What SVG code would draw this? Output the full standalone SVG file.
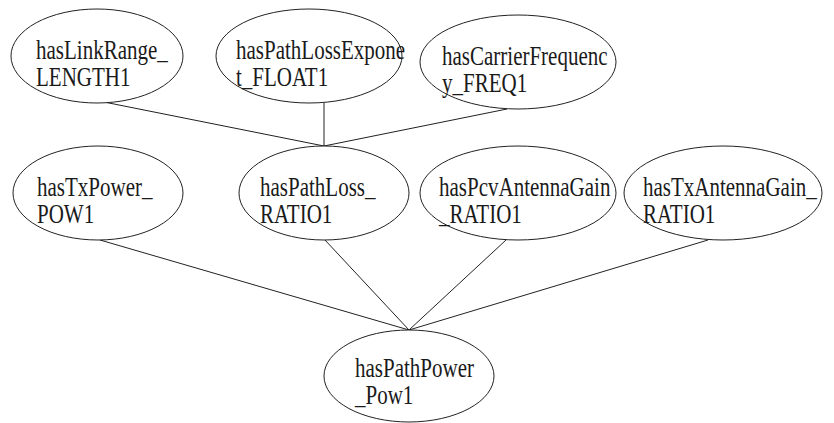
<svg xmlns="http://www.w3.org/2000/svg" width="834" height="423" viewBox="0 0 834 423">
<style>
ellipse{fill:#fff;stroke:#222;stroke-width:1}
text{font-family:'Liberation Serif','Times New Roman',serif;font-size:21px;fill:#1a1a1a}
#edges line{stroke:#222;stroke-width:1}
</style>
<rect width="834" height="423" fill="#fff"/>
<g id="edges">
<line x1="104" y1="102" x2="324" y2="146"/>
<line x1="324" y1="103" x2="324" y2="146"/>
<line x1="507" y1="109" x2="324" y2="146"/>
<line x1="100" y1="240" x2="409" y2="330"/>
<line x1="325" y1="240" x2="409" y2="330"/>
<line x1="506" y1="240" x2="409" y2="330"/>
<line x1="708" y1="240" x2="409" y2="330"/>
</g>
<g id="n1"><ellipse cx="97" cy="56" rx="86" ry="47"/><text transform="translate(36,59) scale(1,1.25)">hasLinkRange_</text><text transform="translate(36,86) scale(1,1.25)">LENGTH1</text></g>
<g id="n2"><ellipse cx="309" cy="56" rx="93" ry="47"/><text transform="translate(236,59) scale(1,1.25)">hasPathLossExpone</text><text transform="translate(236,86) scale(1,1.25)">t_FLOAT1</text></g>
<g id="n3"><ellipse cx="518" cy="62" rx="98" ry="47"/><text transform="translate(442,65) scale(1,1.25)">hasCarrierFrequenc</text><text transform="translate(442,92) scale(1,1.25)">y_FREQ1</text></g>
<g id="n4"><ellipse cx="98" cy="193" rx="85" ry="47"/><text transform="translate(37,196) scale(1,1.25)">hasTxPower_</text><text transform="translate(37,223) scale(1,1.25)">POW1</text></g>
<g id="n5"><ellipse cx="324" cy="193" rx="85" ry="47"/><text transform="translate(260,196) scale(1,1.25)">hasPathLoss_</text><text transform="translate(260,223) scale(1,1.25)">RATIO1</text></g>
<g id="n6"><ellipse cx="518" cy="193" rx="98" ry="47"/><text transform="translate(439,196) scale(1,1.25)">hasPcvAntennaGain</text><text transform="translate(439,223) scale(1,1.25)">_RATIO1</text></g>
<g id="n7"><ellipse cx="723" cy="193" rx="99" ry="47"/><text transform="translate(643,196) scale(1,1.25)">hasTxAntennaGain_</text><text transform="translate(643,223) scale(1,1.25)">RATIO1</text></g>
<g id="n8"><ellipse cx="409" cy="376" rx="85" ry="46"/><text transform="translate(355,377) scale(1,1.25)">hasPathPower</text><text transform="translate(355,404) scale(1,1.25)">_Pow1</text></g>
</svg>
